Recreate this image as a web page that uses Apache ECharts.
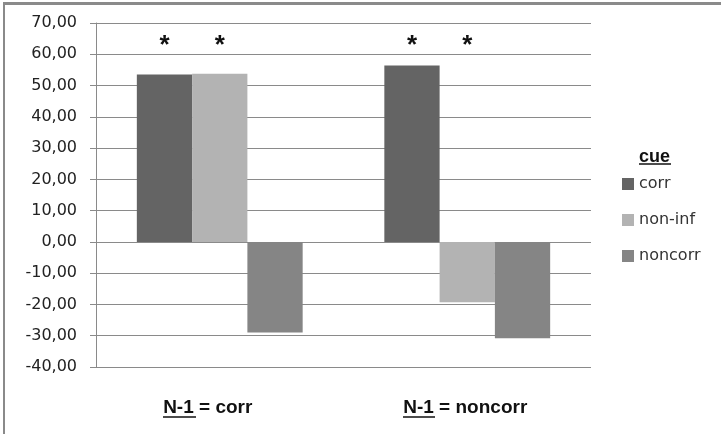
<!DOCTYPE html>
<html>
<head>
<meta charset="utf-8">
<script src="https://cdn.jsdelivr.net/npm/echarts@6/dist/echarts.min.js"></script>
<style>
  html, body { margin: 0; padding: 0; background: #fff; }
  #wrap { position: relative; width: 721px; height: 434px; overflow: hidden; }
  #chart { position: absolute; left: 0; top: 0; width: 721px; height: 434px; }
  #frame { position: absolute; left: 3px; top: 2px; width: 730px; height: 450px;
           border-left: 2px solid #8a8a8a; border-top: 3px solid #8a8a8a; pointer-events: none; }
</style>
</head>
<body>
<div id="wrap">
  <div id="chart"></div>
  <div id="frame"></div>
</div>
<script>
// ---- data ----
var categories = ['N-1 = corr', 'N-1 = noncorr'];
var seriesNames = ['corr', 'non-inf', 'noncorr'];
var corrValues = [53.5, 56.4];
var nonInfValues = [53.8, -19.3];
var noncorrValues = [-29.0, -30.8];
// significance asterisks (height on the value axis, null = none)
var starCorr = [60, 60];
var starNonInf = [60, 60];
var starNoncorr = [null, null];
var yTicks = { min: -40, max: 70, interval: 10 };
var legendTitle = 'cue';

var colors = ['#646464', '#b3b3b3', '#858585'];
var barCfg = { barGap: '0%', barCategoryGap: '33%' };
// per-category label shift (padding right) to mimic the original text placement
var catLabelPad = [24, 4];

var chart = echarts.init(document.getElementById('chart'), null, { renderer: 'canvas' });

function dataSeries(name, values, color) {
  return Object.assign({
    name: name, type: 'bar', xAxisIndex: 0, yAxisIndex: 0,
    data: values,
    itemStyle: { color: color },
    z: 3
  }, barCfg);
}
function starSeries(values) {
  return Object.assign({
    type: 'bar', xAxisIndex: 1, yAxisIndex: 0,
    data: values,
    silent: true,
    itemStyle: { color: 'rgba(0,0,0,0)' },
    label: {
      show: true, position: 'top', distance: -5, formatter: '*',
      fontFamily: 'Liberation Sans', fontWeight: 'bold', fontSize: 26, color: '#111'
    },
    z: 1
  }, barCfg);
}

var option = {
  animation: false,
  backgroundColor: '#ffffff',
  title: {
    text: legendTitle,
    left: 634, top: 143,
    textStyle: { fontFamily: 'Liberation Sans', fontWeight: 'bold', fontSize: 18, color: '#111' }
  },
  legend: {
    data: seriesNames,
    orient: 'vertical',
    left: 617, top: 171,
    itemWidth: 12, itemHeight: 12, itemGap: 20,
    icon: 'rect',
    textStyle: { fontFamily: 'DejaVu Sans', fontSize: 16, color: '#333', padding: [0, 0, 0, 0] }
  },
  grid: { left: 96, right: 130, top: 23, bottom: 67, containLabel: false },
  xAxis: [
    {
      type: 'category',
      data: categories.map(function (c, i) {
        return { value: c, textStyle: { padding: [0, catLabelPad[i], 0, 0] } };
      }),
      axisLine: { show: false, onZero: false },
      axisTick: { show: false },
      splitLine: { show: false },
      axisLabel: {
        margin: 31,
        fontFamily: 'Liberation Sans', fontWeight: 'bold', fontSize: 19, color: '#111'
      }
    },
    {
      type: 'category', data: categories, show: false,
      axisLine: { onZero: false }
    }
  ],
  yAxis: {
    type: 'value', min: yTicks.min, max: yTicks.max, interval: yTicks.interval,
    axisLine: { show: true, lineStyle: { color: '#8a8a8a', width: 1 } },
    axisTick: { show: true, length: 6, lineStyle: { color: '#8a8a8a' } },
    splitLine: { show: true, lineStyle: { color: '#8a8a8a', width: 1 } },
    axisLabel: {
      margin: 19,
      fontFamily: 'DejaVu Sans', fontSize: 16, color: '#222',
      formatter: function (v) { return v.toFixed(2).replace('.', ','); }
    }
  },
  graphic: [
    { type: 'line', shape: { x1: 163, y1: 417, x2: 196, y2: 417 }, style: { stroke: '#111', lineWidth: 1.5 } },
    { type: 'line', shape: { x1: 403, y1: 417, x2: 435, y2: 417 }, style: { stroke: '#111', lineWidth: 1.5 } },
    { type: 'line', shape: { x1: 639, y1: 164, x2: 671, y2: 164 }, style: { stroke: '#111', lineWidth: 1.5 } }
  ],
  series: [
    dataSeries(seriesNames[0], corrValues, colors[0]),
    dataSeries(seriesNames[1], nonInfValues, colors[1]),
    dataSeries(seriesNames[2], noncorrValues, colors[2]),
    starSeries(starCorr),
    starSeries(starNonInf),
    starSeries(starNoncorr)
  ]
};
chart.setOption(option);
</script>
</body>
</html>
